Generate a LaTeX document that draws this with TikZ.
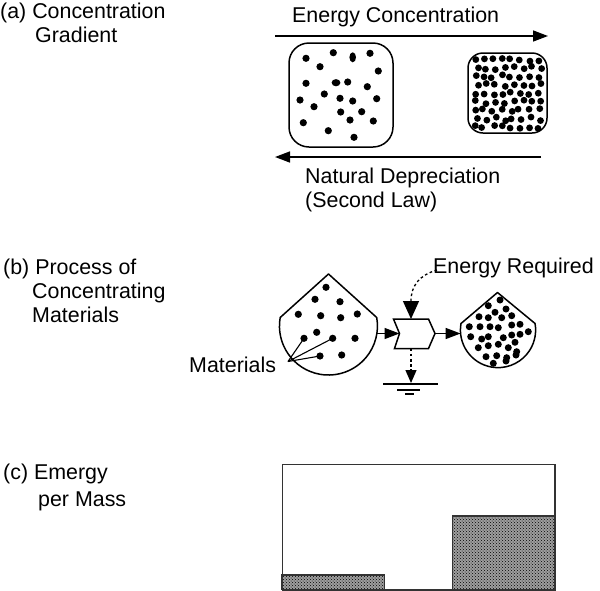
\documentclass[tikz,border=0pt]{standalone}
\usepackage{fontspec}
\setmainfont{Liberation Sans}
\usetikzlibrary{arrows.meta,patterns}
\begin{document}
\begin{tikzpicture}[x=1pt,y=1pt,
  lbl/.style={inner sep=0pt, anchor=base west, font=\fontsize{21.4}{24}\selectfont},
  ln/.style={line width=1.5pt},
  arr/.style={ln, -{Triangle[length=15pt,width=11pt]}},
  dotarr/.style={line width=1.3pt, dash pattern=on 2.6pt off 2.6pt, -{Triangle[length=18pt,width=16pt]}},
  downarr/.style={line width=1.3pt, dash pattern=on 2.6pt off 2.6pt, -{Triangle[length=13pt,width=11pt]}},
  dotfill/.style={fill=black},
  barpat/.style={pattern=crosshatch dots, pattern color=black},
]
\useasboundingbox (0,0) rectangle (600,-590);

% ---------------- (a) ----------------
\node[lbl] (la1) at (0,-18.5) {(a) Concentration};
\node[lbl] (la2) at (35,-42) {Gradient};
\node[lbl] (ec) at (292,-22) {Energy Concentration};
\coordinate (t1) at (275,-36);
\coordinate (t2) at (548,-36);
\draw[arr] (t1) -- (t2);

\node[draw, ln, rounded corners=20pt, minimum width=104pt, minimum height=104pt, inner sep=0pt] (boxA) at (341,-95) {};
\node[draw, ln, rounded corners=15pt, minimum width=79pt, minimum height=80pt, inner sep=0pt] (boxB) at (507.5,-93) {};

\foreach \x/\y in {306/58.3,333.3/52.7,370/53.3,320/66.7,378.3/71,306/83.3,347.7/82,367.3/86.7,
  300/100,324.3/94,340/98.3,352.7/101,376.7/98.7,314/106.7,340.7/112,361.7/111.7,350/120,
  303.3/122.7,373.3/121,328.3/130.7,354/137.3}
  \fill[dotfill] (\x,-\y) circle[radius=3.6pt];
\fill[dotfill] (352.7,-57.3) ellipse[x radius=3.3pt, y radius=5pt];
\fill[dotfill] (336,-82.7) ellipse[x radius=4.4pt, y radius=3.6pt];

\pgfmathsetseed{11}
\foreach \j in {0,...,8}
  \foreach \i in {0,...,7} {
    \pgfmathsetmacro\xx{474.5+9.1*\i+2.2*mod(\j,2)+2.0*rand}
    \pgfmathsetmacro\yy{59.5+8.5*\j+2.0*rand}
    \fill[dotfill] (\xx,-\yy) circle[radius=3.4pt];
  }

\coordinate (b1) at (541,-157);
\coordinate (b2) at (275,-157);
\draw[arr] (b1) -- (b2);
\node[lbl] (nd1) at (305,-183.5) {Natural Depreciation};
\node[lbl] (nd2) at (305,-207) {(Second Law)};

% ---------------- (b) ----------------
\node[lbl] (lb1) at (3,-274.5) {(b) Process of};
\node[lbl] (lb2) at (32,-298.5) {Concentrating};
\node[lbl] (lb3) at (32,-322.5) {Materials};

% left source shape
\coordinate (sA) at (328.5,-274);
\draw[ln, line join=round] (sA) -- (280.2,-317.5) arc[start angle=170, end angle=370, radius=49pt] -- cycle;
\foreach \x/\y in {326/287.3,315/299.3,340/301.7,298.3/314.3,320.7/315.7,340.7/317.7,357.3/314,
  316.7/332.3,304/338.3,332.7/338.3,355/338.3,320/356,341.7/355}
  \fill[dotfill] (\x,-\y) circle[radius=3.6pt];

\node[lbl] (mat) at (189,-372.3) {Materials};
\coordinate (mp) at (288,-361.5);
\draw[line width=1.1pt] (mp) -- (304,-338.3);
\draw[line width=1.1pt] (mp) -- (332.7,-338.3);
\draw[line width=1.1pt] (mp) -- (320,-356);

% process box
\coordinate (pL) at (399.5,-333.5);
\coordinate (pR) at (435,-333.5);
\coordinate (pT) at (411,-319);
\coordinate (pB) at (411,-348.5);
\draw[ln, line join=miter] (393.5,-319) -- (428.5,-319) -- (pR) -- (428.5,-348.5) -- (394.5,-348.5) -- (pL) -- cycle;

\coordinate (sAr) at (377,-333.5);
\draw[arr] (sAr) -- (pL);

% right shape
\coordinate (sB) at (497.5,-292.5);
\draw[ln, line join=round] (sB) -- (461,-323.5) arc[start angle=170, end angle=370, radius=37.6pt] -- cycle;
\foreach \x/\y in {500/300,488.3/305.7,506/309,495/312.3,479/316.7,488.3/317.7,501.7/317.7,511.7/315.7,
  469.3/326.7,480/326.7,490/326.7,498.3/327.7,511.7/325,520/324.3,528.3/331.7,
  470.7/336.7,481.7/339,488.3/336.7,503.3/337.7,511.7/335,520/334.3,
  478.3/347.7,488.3/345.7,498.3/344.3,508.3/347.7,515/342.3,516.7/351.7,
  486/356.7,496.7/355.7,506.7/357.7,516/355,493.3/363.3,506/361}
  \fill[dotfill] (\x,-\y) circle[radius=3.5pt];
\coordinate (sBl) at (460.6,-333.5);
\draw[arr] (pR) -- (sBl);

% energy required
\node[lbl, anchor=base east] (er) at (594,-273) {Energy Required};
\coordinate (es) at (437,-270);
\draw[dotarr] (es) .. controls (420,-275) and (411,-285) .. (pT);

% sink
\coordinate (gnd) at (411,-383);
\draw[downarr] (pB) -- (gnd);
\draw[line width=1.4pt] (383,-384) -- (438,-384);
\draw[line width=1.4pt] (397,-390) -- (420,-390);
\draw[line width=1.4pt] (405,-394) -- (414,-394);

% ---------------- (c) ----------------
\node[lbl] (lc1) at (3,-479) {(c) Emergy};
\node[lbl] (lc2) at (38,-506) {per Mass};

\fill[black!38] (281.7,-575) rectangle (384.3,-589.3);
\fill[barpat] (281.7,-575) rectangle (384.3,-589.3);
\draw[draw=black!80, line width=1.3pt] (281.7,-575) rectangle (384.3,-589.3);
\fill[black!38] (452.3,-516) rectangle (554.3,-589.3);
\fill[barpat] (452.3,-516) rectangle (554.3,-589.3);
\draw[draw=black!80, line width=1.3pt] (452.3,-516) rectangle (554.3,-589.3);
\node[draw=black!80, line width=1.3pt, minimum width=272.6pt, minimum height=125.3pt, inner sep=0pt, anchor=north west] (chart) at (281.7,-464) {};
\end{tikzpicture}
\end{document}
